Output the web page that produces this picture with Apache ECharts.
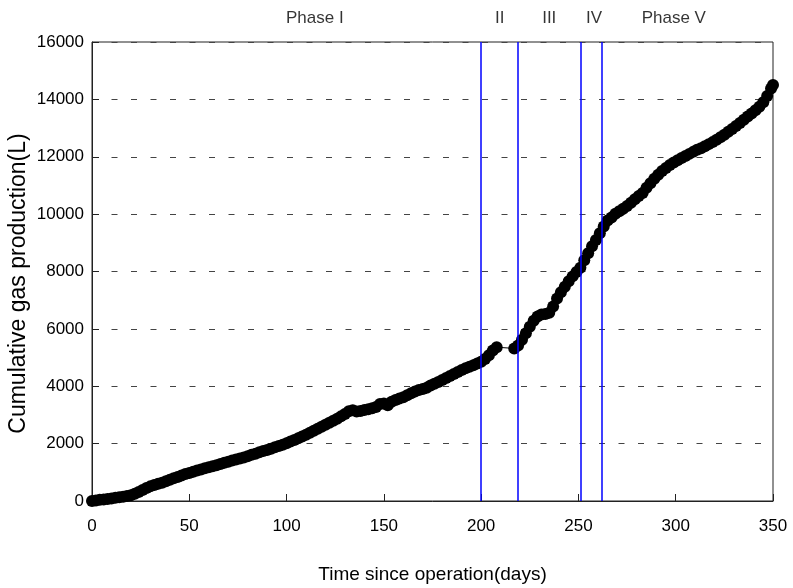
<!DOCTYPE html>
<html>
<head>
<meta charset="utf-8">
<script src="https://cdn.jsdelivr.net/npm/echarts@6/dist/echarts.min.js"></script>
<style>
html,body{margin:0;padding:0;background:#fff;}
#chart{width:793px;height:588px;}
</style>
</head>
<body>
<div id="chart"></div>
<script>
// ---- data ----
var days = [0,2,4,6,8,10,12,14,16,18,20,22,24,26,28,30,32,34,36,38,40,42,44,46,48,50,52,54,56,58,60,62,64,66,68,70,72,74,76,78,80,82,84,86,88,90,92,94,96,98,100,102,104,106,108,110,112,114,116,118,120,122,124,126,128,130,132,134,136,138,140,142,144,146,148,150,152,154,156,158,160,162,164,166,168,170,172,174,176,178,180,182,184,186,188,190,192,194,196,198,200,202,204,206,208,217,219,221,223,225,227,229,231,233,235,237,239,241,243,245,247,249,251,253,255,257,259,261,263,265,267,269,271,273,275,277,279,281,283,285,287,289,291,293,295,297,299,301,303,305,307,309,311,313,315,317,319,321,323,325,327,329,331,333,335,337,339,341,343,345,347,349,350];
var gasL = [0,20,40,55,70,90,110,130,150,175,200,250,310,380,450,510,555,600,640,690,740,790,840,890,940,980,1020,1060,1100,1140,1180,1210,1250,1290,1330,1370,1410,1450,1480,1520,1560,1610,1650,1700,1740,1780,1820,1870,1920,1960,2010,2070,2130,2190,2250,2310,2380,2450,2520,2590,2660,2730,2800,2870,2950,3030,3130,3160,3120,3140,3170,3200,3230,3280,3380,3400,3340,3460,3520,3570,3620,3690,3760,3820,3870,3900,3950,4030,4090,4150,4220,4290,4360,4430,4500,4570,4630,4680,4730,4790,4850,4950,5080,5250,5360,5320,5420,5620,5850,6070,6280,6430,6500,6520,6560,6780,7060,7280,7470,7660,7830,7980,8130,8390,8640,8880,9100,9330,9570,9780,9880,10010,10100,10190,10280,10400,10520,10630,10740,10920,11080,11230,11370,11500,11610,11710,11800,11880,11960,12030,12100,12170,12240,12300,12370,12440,12510,12590,12680,12770,12870,12970,13070,13180,13290,13400,13510,13620,13740,13900,14120,14380,14500];
var phaseBounds = [200, 219, 251, 262];
var phaseNames = ['Phase I', 'II', 'III', 'IV', 'Phase V'];
var phaseCenters = [114.5, 209.5, 235, 258, 299];
var xTicks = [0, 50, 100, 150, 200, 250, 300, 350];
var yTicks = [0, 2000, 4000, 6000, 8000, 10000, 12000, 14000, 16000];

var FONT = '"Liberation Sans", Arial, sans-serif';

var points = days.map(function (d, i) { return [d, gasL[i]]; });
var phaseLabelData = phaseCenters.map(function (c, i) { return { value: [c, yTicks[yTicks.length - 1]], name: phaseNames[i] }; });

var chart = echarts.init(document.getElementById('chart'), null, { renderer: 'canvas' });
chart.setOption({
  animation: false,
  backgroundColor: '#ffffff',
  grid: { left: 92, right: 20, top: 42, bottom: 87, containLabel: false, outerBoundsMode: 'none', show: true, borderColor: '#222', borderWidth: 1, backgroundColor: 'transparent' },
  xAxis: {
    type: 'value', min: xTicks[0], max: xTicks[xTicks.length - 1], interval: 50,
    name: 'Time since operation(days)', nameLocation: 'middle', nameGap: 64, nameMoveOverlap: false,
    nameTextStyle: { fontFamily: FONT, fontSize: 19, color: '#000' },
    axisLine: { lineStyle: { color: '#222', width: 1 } },
    axisTick: { inside: true, length: 7, lineStyle: { color: '#222' } },
    axisLabel: { fontFamily: FONT, fontSize: 17, color: '#000', margin: 17, formatter: function (v) { return String(v); } },
    splitLine: { show: false }
  },
  yAxis: {
    type: 'value', min: yTicks[0], max: yTicks[yTicks.length - 1], interval: 2000,
    name: 'Cumulative gas production(L)', nameLocation: 'middle', nameGap: 62, nameMoveOverlap: false,
    nameTextStyle: { fontFamily: FONT, fontSize: 23, color: '#000', padding: [0, 24, 0, 0] },
    axisLine: { show: true, lineStyle: { color: '#222', width: 1 } },
    axisTick: { show: true, inside: true, length: 7, lineStyle: { color: '#222' } },
    axisLabel: { fontFamily: FONT, fontSize: 17, color: '#000', margin: 8, formatter: function (v) { return String(v); } },
    splitLine: { show: true, lineStyle: { color: '#444', width: 1, type: [6, 13.5] } }
  },
  series: [
    {
      type: 'line',
      data: points,
      symbol: 'circle',
      symbolSize: 12,
      showSymbol: true,
      itemStyle: { color: '#000' },
      lineStyle: { color: '#000', width: 1 },
      clip: false,
      z: 3,
      markLine: {
        silent: true,
        symbol: ['none', 'none'],
        label: { show: false },
        lineStyle: { color: '#0000ff', width: 1.5, type: 'solid' },
        data: phaseBounds.map(function (b) { return { xAxis: b }; })
      }
    },
    {
      type: 'scatter',
      data: phaseLabelData,
      symbolSize: 0,
      clip: false,
      silent: true,
      label: {
        show: true, position: 'inside', offset: [0, -24],
        formatter: function (p) { return p.name; },
        fontFamily: FONT, fontSize: 17, color: '#000'
      }
    }
  ]
});
</script>
</body>
</html>
